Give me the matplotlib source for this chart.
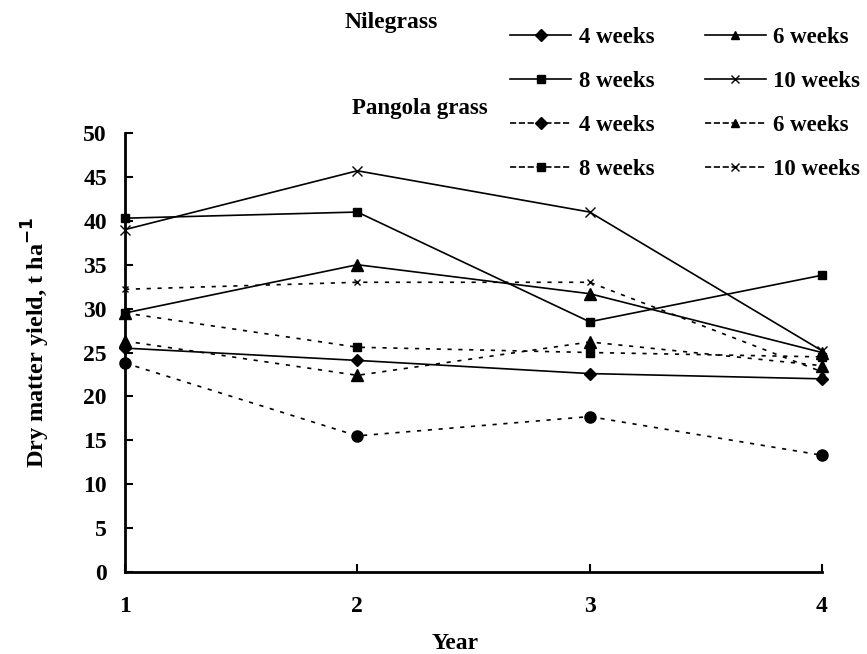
import matplotlib.pyplot as plt
from matplotlib.lines import Line2D

plt.rcParams["font.family"] = ["Liberation Serif", "DejaVu Serif"]
plt.rcParams["font.weight"] = "bold"

years = [1, 2, 3, 4]

nile_4 = [25.5, 24.1, 22.6, 22.0]
nile_6 = [29.5, 35.0, 31.7, 25.0]
nile_8 = [40.3, 41.0, 28.5, 33.8]
nile_10 = [39.0, 45.7, 41.0, 25.2]

pang_4 = [23.8, 15.5, 17.7, 13.3]
pang_6 = [26.3, 22.4, 26.2, 23.5]
pang_8 = [29.5, 25.6, 25.0, 24.5]
pang_10 = [32.2, 33.0, 33.0, 22.8]

solid = "-"
dotted = (0, (2.5, 4))

series = [
    (nile_4, solid, "D", 6.5, "4 weeks"),
    (nile_6, solid, "^", 8, "6 weeks"),
    (nile_8, solid, "s", 6, "8 weeks"),
    (nile_10, solid, "x", 7, "10 weeks"),
    (pang_4, dotted, "o", 8, "4 weeks"),
    (pang_6, dotted, "^", 8, "6 weeks"),
    (pang_8, dotted, "s", 6, "8 weeks"),
    (pang_10, dotted, "x", 5, "10 weeks"),
]

fig = plt.figure(figsize=(8.67, 6.54), dpi=100)
ax = fig.add_axes([0.1442, 0.1254, 0.8038, 0.6712])

handles = []
for vals, ls, mk, ms, lab in series:
    (h,) = ax.plot(years, vals, color="black", linestyle=ls, linewidth=1.2,
                   marker=mk, markersize=ms, markeredgewidth=1.0, label=lab,
                   clip_on=False)
    handles.append(h)

ax.set_xlim(1, 4)
ax.set_ylim(0, 50)
ax.set_xticks(years)
ax.set_yticks(range(0, 51, 5))
ax.tick_params(direction="in", length=6, width=1.5, labelsize=17)
ax.tick_params(axis="x", pad=17)
ax.tick_params(axis="y", pad=13)
for s in ["top", "right"]:
    ax.spines[s].set_visible(False)
for s in ["left", "bottom"]:
    ax.spines[s].set_linewidth(2)

ax.set_xlabel("Year", fontsize=17, fontweight="bold")
ax.xaxis.set_label_coords(0.473, -0.139)
ax.set_ylabel("Dry matter yield, t ha$^{\\mathbf{-1}}$", fontsize=17.5,
              fontweight="bold")
ax.yaxis.set_label_coords(-0.128, 0.524)
ax.yaxis.label.set_va("center")

# legend, column-major order: N4, N8, P4, P8 | N6, N10, P6, P10
order = [0, 2, 4, 6, 1, 3, 5, 7]
leg_h = []
for i in order:
    h = handles[i]
    mk = h.get_marker()
    leg_h.append(Line2D([], [], color="black", linestyle=h.get_linestyle(),
                        linewidth=1.2, marker="D" if mk == "o" else mk,
                        markersize=6, markeredgewidth=1.0))
fig.legend(leg_h, [series[i][4] for i in order], ncol=2, frameon=False,
           loc="upper left", bbox_to_anchor=(0.565, 0.99),
           prop={"size": 16.5, "weight": "bold"}, handlelength=2.65,
           handletextpad=0.34, columnspacing=2.2, labelspacing=1.0)

fig.text(0.398, 0.966, "Nilegrass", fontsize=17, fontweight="bold",
         ha="left", va="center")
fig.text(0.406, 0.834, "Pangola grass", fontsize=16.5, fontweight="bold",
         ha="left", va="center")

fig.savefig("out.png", dpi=100)
